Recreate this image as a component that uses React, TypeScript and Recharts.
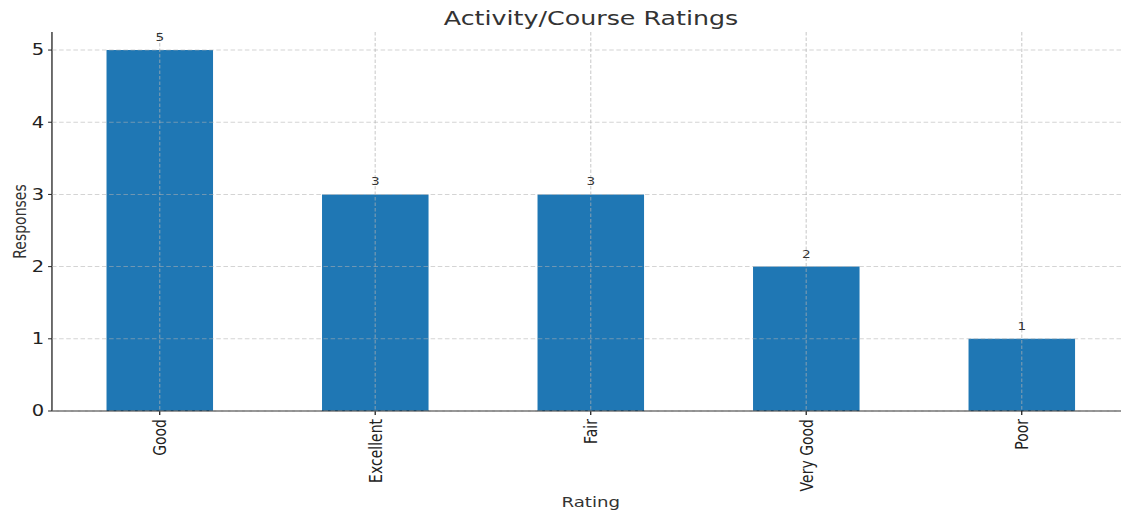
import { BarChart, Bar, XAxis, YAxis, CartesianGrid, LabelList } from 'recharts'

const categories = ['Good', 'Excellent', 'Fair', 'Very Good', 'Poor']
const responses = [5, 3, 3, 2, 1]
const yTicks = [0, 1, 2, 3, 4, 5]
const Y_MAX = 5.25

const FONT = '"DejaVu Sans", sans-serif'
// the reference is a matplotlib figure stretched sideways, so draw narrow and stretch
const STRETCH = 1.299
const W = 863
const H = 519

const data = categories.map((c, i) => ({ rating: c, responses: responses[i] }))

const RotatedTick = ({ x, y, payload }: any) => (
  <g transform={`translate(${x},${y})`}>
    <text
      transform="rotate(-90)"
      x={-2}
      dy="0.35em"
      textAnchor="end"
      fontSize={14}
      fontFamily={FONT}
      fill="#222"
    >
      {payload.value}
    </text>
  </g>
)

// grid lines only at the y ticks and the category centres (no line along the top edge)
const hLines = ({ offset }: any) => yTicks.map((t) => offset.top + offset.height * (1 - t / Y_MAX))
const vLines = ({ offset }: any) =>
  categories.map((_, i) => offset.left + (offset.width * (i + 0.5)) / categories.length)

export default function App() {
  return (
    <div style={{ position: 'absolute', left: 0, top: 0, width: W, height: H, transform: `scaleX(${STRETCH})`, transformOrigin: '0 0' }}>
      <svg width={W} height={40} style={{ position: 'absolute', left: 0, top: 0 }}>
        <text x={455} y={25} textAnchor="middle" fontSize={19.5} fontFamily={FONT} fill="#333">
          Activity/Course Ratings
        </text>
      </svg>
      <BarChart width={W} height={H} data={data} margin={{ top: 32, right: -6.5, left: 0, bottom: 0 }}>
        <XAxis
          dataKey="rating"
          height={108}
          tick={<RotatedTick />}
          tickSize={4}
          tickLine={{ stroke: '#222' }}
          axisLine={{ stroke: '#222' }}
          interval={0}
          label={{
            content: (p: any) => (
              <text
                x={p.viewBox.x + p.viewBox.width / 2}
                y={p.viewBox.y + 96.5}
                textAnchor="middle"
                fontSize={14}
                fontFamily={FONT}
                fill="#333"
              >
                Rating
              </text>
            ),
          }}
        />
        <YAxis
          width={40}
          domain={[0, Y_MAX]}
          ticks={yTicks}
          tickSize={3}
          tickMargin={3}
          tick={{ fontSize: 15, fontFamily: FONT, fill: '#222' }}
          tickLine={{ stroke: '#222' }}
          axisLine={{ stroke: '#222' }}
          label={{
            content: (p: any) => (
              <text
                x={15.4}
                y={p.viewBox.y + p.viewBox.height / 2}
                transform={`rotate(-90 15.4 ${p.viewBox.y + p.viewBox.height / 2})`}
                dy="0.35em"
                textAnchor="middle"
                fontSize={14}
                fontFamily={FONT}
                fill="#333"
              >
                Responses
              </text>
            ),
          }}
        />
        <Bar dataKey="responses" fill="#1f77b4" barSize={82} isAnimationActive={false}>
          <LabelList dataKey="responses" position="top" offset={9} fontSize={10.5} fontFamily={FONT} fill="#333" />
        </Bar>
        <CartesianGrid
          stroke="#b0b0b0"
          strokeOpacity={0.55}
          strokeDasharray="3.5 2"
          zIndex={500}
          horizontalCoordinatesGenerator={hLines}
          verticalCoordinatesGenerator={vLines}
        />
      </BarChart>
    </div>
  )
}
